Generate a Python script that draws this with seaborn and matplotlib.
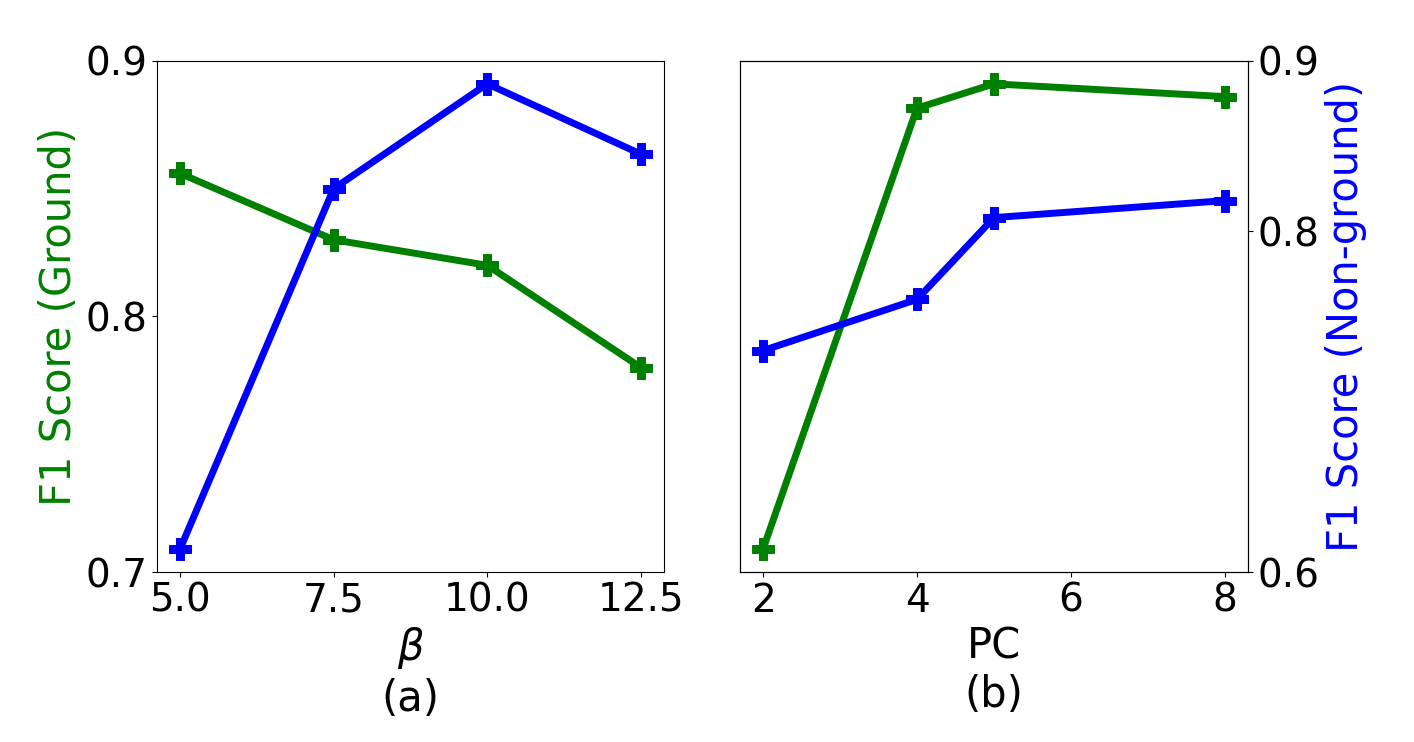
import matplotlib
matplotlib.use("Agg")
import matplotlib.pyplot as plt
import seaborn as sns
import pandas as pd

# ---- data ----
beta_vals = [5.0, 7.5, 10.0, 12.5]
beta_ground = [0.856, 0.830, 0.820, 0.780]
beta_nonground = [0.709, 0.850, 0.891, 0.8635]

pc_vals = [2, 4, 5, 8]
pc_ground = [0.709, 0.8815, 0.891, 0.886]
pc_nonground = [0.730, 0.760, 0.808, 0.818]

left_ticks = [0.7, 0.8, 0.9]
right_ticks = [0.6, 0.8, 0.9]
beta_xticks = [5.0, 7.5, 10.0, 12.5]
pc_xticks = [2, 4, 6, 8]

sns.set_style("ticks")
plt.rcParams['font.family'] = ['DejaVu Sans']
plt.rcParams.update({
    "text.color": "black",
    "axes.labelcolor": "black",
    "xtick.color": "black",
    "ytick.color": "black",
    "axes.edgecolor": "black",
})
FS_TICK = 28
FS_LAB = 30
GREEN = "#008000"
BLUE = "#0000ff"

fig = plt.figure(figsize=(14.14, 7.42), dpi=100)
ax1 = fig.add_axes([0.111, 0.229, 0.3586, 0.689])
ax2 = fig.add_axes([0.5233, 0.229, 0.3593, 0.689])
ax2t = ax2.twinx()

line_kw = dict(marker="P", markersize=16, linewidth=5)

df_a = pd.DataFrame({"x": beta_vals, "g": beta_ground, "n": beta_nonground})
sns.lineplot(data=df_a, x="x", y="g", ax=ax1, color=GREEN, mec=GREEN, **line_kw)
sns.lineplot(data=df_a, x="x", y="n", ax=ax1, color=BLUE, mec=BLUE, **line_kw)

df_b = pd.DataFrame({"x": pc_vals, "g": pc_ground, "n": pc_nonground})
sns.lineplot(data=df_b, x="x", y="g", ax=ax2, color=GREEN, mec=GREEN, **line_kw)
sns.lineplot(data=df_b, x="x", y="n", ax=ax2t, color=BLUE, mec=BLUE, **line_kw)

ax1.set_ylim(0.7, 0.9)
ax1.set_yticks(left_ticks)
ax1.set_xticks(beta_xticks)
ax1.set_xticklabels([f"{v:.1f}" for v in beta_xticks])
ax1.set_ylabel("F1 Score (Ground)", color=GREEN, fontsize=FS_LAB)
ax1.set_xlabel("$\\beta$\n(a)", fontsize=FS_LAB, color="black")

ax2.set_ylim(0.7, 0.9)
ax2.set_xticks(pc_xticks)
ax2.tick_params(left=False, labelleft=False)
ax2.set_ylabel("")
ax2.set_xlabel("PC\n(b)", fontsize=FS_LAB, color="black")

ax2t.set_ylim(0.6, 0.9)
ax2t.set_yticks(right_ticks)
ax2t.set_ylabel("F1 Score (Non-ground)", color=BLUE, fontsize=FS_LAB)

for ax in (ax1, ax2, ax2t):
    ax.tick_params(labelsize=FS_TICK, direction="out", length=3.5, width=0.8,
                   color="black", labelcolor="black")
    for s in ax.spines.values():
        s.set_color("black")
        s.set_linewidth(0.8)
        s.set_visible(True)

fig.savefig("out.png", dpi=100)
